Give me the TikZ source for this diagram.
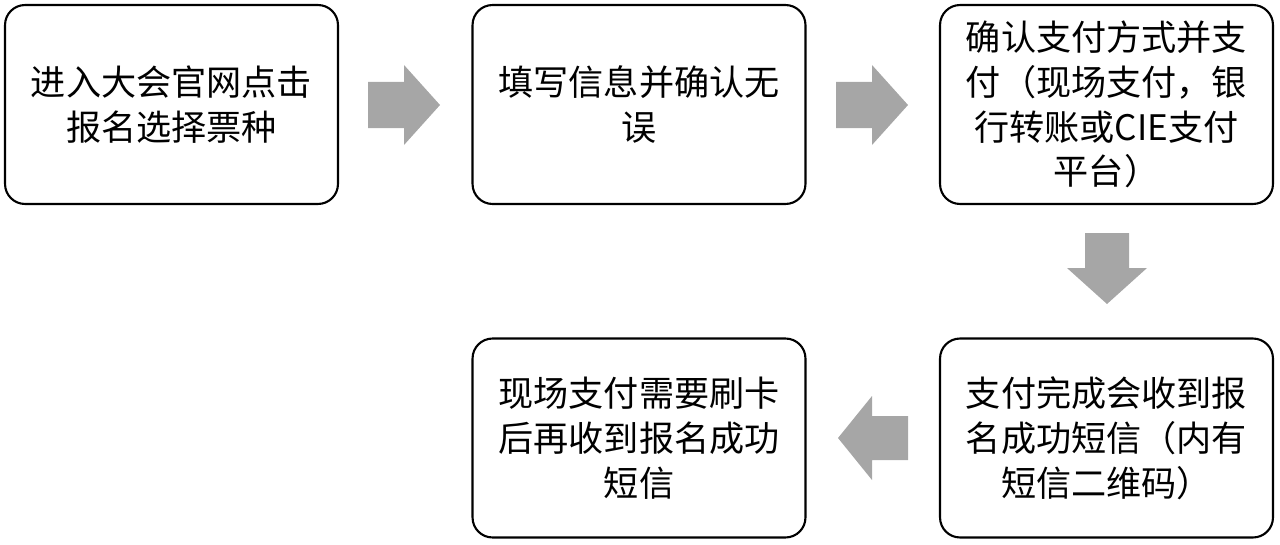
\documentclass[tikz,border=0pt]{standalone}
\usepackage{fontspec}
\setmainfont{Noto Sans CJK SC}
\usetikzlibrary{positioning}
\begin{document}
\begin{tikzpicture}[x=0.02cm, y=-0.02cm,
	stepbox/.style = {draw, line width=1.2pt, rounded corners=0.4cm, minimum width=6.66cm, minimum height=3.98cm, align=center, font=\fontsize{20}{25.5}\selectfont},
	blockarrow/.style = {fill=black!35, draw=none}]
	\useasboundingbox (0,0) rectangle (1280,544);
	\node[stepbox] (1) at (171.5,104.5) {进入大会官网点击\\报名选择票种};
	\node[stepbox] (2) at (639,104.5) {填写信息并确认无\\误};
	\node[stepbox] (3) at (1106.5,104.5) {确认支付方式并支\\付（现场支付，银\\行转账或CIE支付\\平台）};
	\node[stepbox] (4) at (1106.5,438) {支付完成会收到报\\名成功短信（内有\\短信二维码）};
	\node[stepbox] (5) at (639,438) {现场支付需要刷卡\\后再收到报名成功\\短信};
	
	% block arrows
	\fill[blockarrow] (368,82) -- (404,82) -- (404,65) -- (440,105) -- (404,145) -- (404,128) -- (368,128) -- cycle;
	\fill[blockarrow] (836,82) -- (872,82) -- (872,65) -- (908,105) -- (872,145) -- (872,128) -- (836,128) -- cycle;
	\fill[blockarrow] (1085,233) -- (1129,233) -- (1129,268) -- (1147,268) -- (1107,304) -- (1067,268) -- (1085,268) -- cycle;
	\fill[blockarrow] (908,416) -- (872,416) -- (872,396) -- (838,438) -- (872,480) -- (872,460) -- (908,460) -- cycle;
\end{tikzpicture}
\end{document}
